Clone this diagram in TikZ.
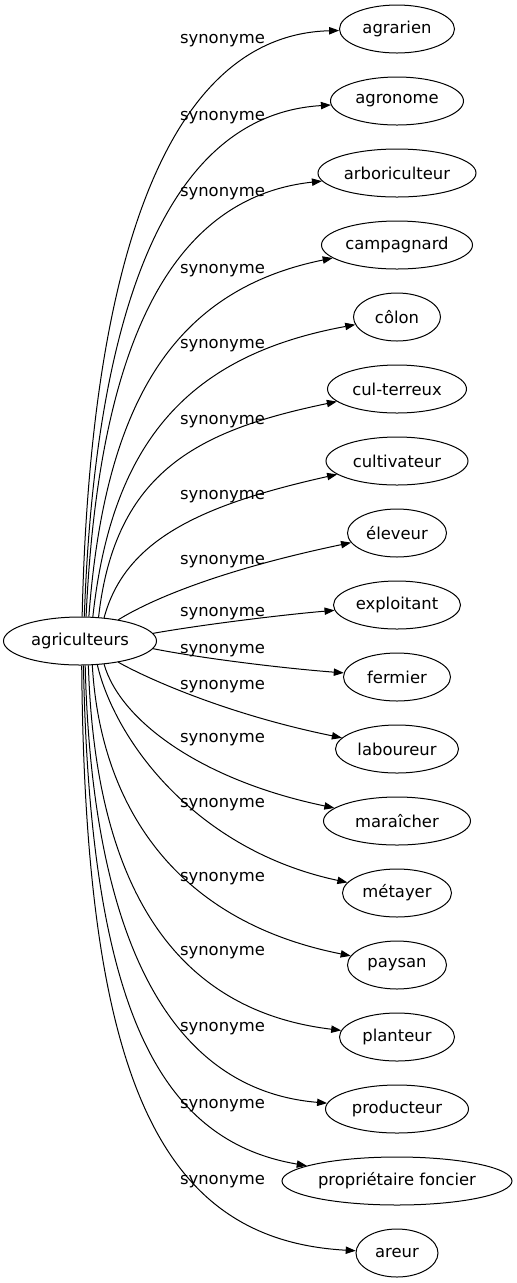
\documentclass[tikz,border=0pt]{standalone}
\usepackage{fontspec}
\setmainfont{DejaVu Sans}
\usetikzlibrary{arrows.meta,shapes.geometric}
\begin{document}
\begin{tikzpicture}[x=0.75pt,y=-0.75pt,
  word/.style={ellipse,draw,line width=0.75pt,minimum height=36pt,inner sep=0pt,font=\fontsize{12.3}{14}\selectfont},
  syn/.style={font=\fontsize{12.3}{14}\selectfont,inner sep=0pt},
  edge/.style={line width=0.75pt,-{Triangle[length=7.5pt,width=5.5pt]}}]
\useasboundingbox (0,0) rectangle (517,1283);
\node[word,minimum width=114.75pt] (src) at (80,641) {agriculteurs};
\foreach \n/\t/\y/\w/\ly/\sa/\ax/\ay/\bx/\by in {
  1/agrarien/29/115/38/85/90/266/165/35,
  2/agronome/101/133/115/80/95/314/165/115,
  3/arboriculteur/173/158/191/76/98/356/165/198,
  4/campagnard/245/151/268/70/105/400/175/290,
  5/côlon/317/87/343/62/112/440/190/355,
  6/cul-terreux/389/139/419/52/115/470/200/430,
  7/cultivateur/461/142/494/44/125/540/200/505,
  8/éleveur/533/99/559/29/150/600/220/570,
  9/exploitant/605/127/611/6/200/625/280/615,
  10/fermier/677/107/648/-6/200/658/280/668,
  11/laboureur/749/123/684/-29/150/680/230/715,
  12/maraîcher/821/147/737/-44/120/720/200/780,
  13/métayer/893/109/802/-54/115/740/195/850,
  14/paysan/965/99/876/-63/100/800/170/920,
  15/planteur/1037/115/950/-71/95/880/170/1010,
  16/producteur/1109/143/1026/-78/92/940/170/1090,
  17/propriétaire foncier/1181/230/1103/-82/90/1000/155/1140,
  18/areur/1253/82/1179/-86/85/1080/160/1240}{
  \node[word,minimum width=\w*0.75pt] (n\n) at (397,\y) {\t};
  \node[syn] (l\n) at (222.5,\ly+2.5) {synonyme};
  \draw[edge] (src.\sa) .. controls (\ax,\ay) and (\bx,\by) .. (n\n);
}
\end{tikzpicture}
\end{document}
